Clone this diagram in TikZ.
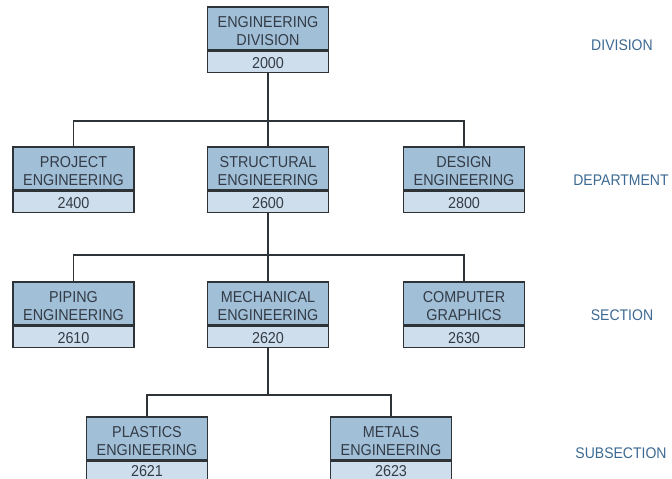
\documentclass[tikz,border=0pt]{standalone}
\usepackage{fontspec}
\setmainfont[FakeStretch=0.91]{Liberation Sans}
\definecolor{topfill}{HTML}{A2BFD8}
\definecolor{numfill}{HTML}{CFDEEC}
\definecolor{boxtext}{HTML}{333C46}
\definecolor{edge}{HTML}{2E3338}
\definecolor{levelblue}{HTML}{3D6A93}
\tikzset{
  topbox/.style={draw=edge, line width=1.6pt, fill=topfill, minimum width=121pt,
    minimum height=43pt, inner sep=0pt},
  numbox/.style={draw=edge, line width=1.6pt, fill=numfill, minimum width=121pt,
    minimum height=21pt, inner sep=0pt},
  boxlabel/.style={inner sep=0pt, align=center, text=boxtext,
    font=\fontsize{15.8}{18.3}\selectfont},
  numlabel/.style={inner sep=0pt, text=boxtext, font=\fontsize{15.8}{18}\selectfont},
  conn/.style={draw=edge, line width=1.3pt},
  level/.style={text=levelblue, font=\fontsize{15.4}{18}\selectfont, inner sep=0pt}
}
\newcommand{\orgbox}[5]{%
  \node[topbox] (#1) at #2 {};
  \node[boxlabel] (#1t) at ([yshift=-2.5pt]#1.center) {#3};
  \node[numbox, anchor=north] (#1n) at (#1.south) {};
  \node[numlabel] (#1nt) at ([yshift=#5]#1n.center) {#4};
}
\begin{document}
\begin{tikzpicture}[x=1pt,y=-1pt]
\useasboundingbox (0,0) rectangle (672,479);
\clip (0,0) rectangle (672,479);
\fill[white] (0,0) rectangle (672,479);
% boxes
\orgbox{div}{(268,28.5)}{ENGINEERING\\DIVISION}{2000}{-0.5pt}
\orgbox{proj}{(73.5,168.5)}{PROJECT\\ENGINEERING}{2400}{-0.5pt}
\orgbox{struct}{(268,168.5)}{STRUCTURAL\\ENGINEERING}{2600}{-0.5pt}
\orgbox{design}{(464,168.5)}{DESIGN\\ENGINEERING}{2800}{-0.5pt}
\orgbox{piping}{(73.5,303.5)}{PIPING\\ENGINEERING}{2610}{-0.5pt}
\orgbox{mech}{(268,303.5)}{MECHANICAL\\ENGINEERING}{2620}{-0.5pt}
\orgbox{comp}{(464,303.5)}{COMPUTER\\GRAPHICS}{2630}{-0.5pt}
\orgbox{plast}{(147,438.5)}{PLASTICS\\ENGINEERING}{2621}{1.5pt}
\orgbox{metal}{(391,438.5)}{METALS\\ENGINEERING}{2623}{1.5pt}
% buses
\coordinate (busA) at (268,121);
\coordinate (busB) at (268,255);
\coordinate (busC) at (268,395);
\draw[conn] (divn.south) -- (busA);
\draw[conn] (busA) -| (proj.north);
\draw[conn] (busA) -| (design.north);
\draw[conn] (busA) -- (struct.north);
\draw[conn] (structn.south) -- (busB);
\draw[conn] (busB) -| (piping.north);
\draw[conn] (busB) -| (comp.north);
\draw[conn] (busB) -- (mech.north);
\draw[conn] (mechn.south) -- (busC);
\draw[conn] (busC) -| (plast.north);
\draw[conn] (busC) -| (metal.north);
% level labels
\node[level] (lvdiv) at (622,45) {DIVISION};
\node[level] (lvdep) at (621,180) {DEPARTMENT};
\node[level] (lvsec) at (622,315) {SECTION};
\node[level] (lvsub) at (621,453) {SUBSECTION};
\end{tikzpicture}
\end{document}
